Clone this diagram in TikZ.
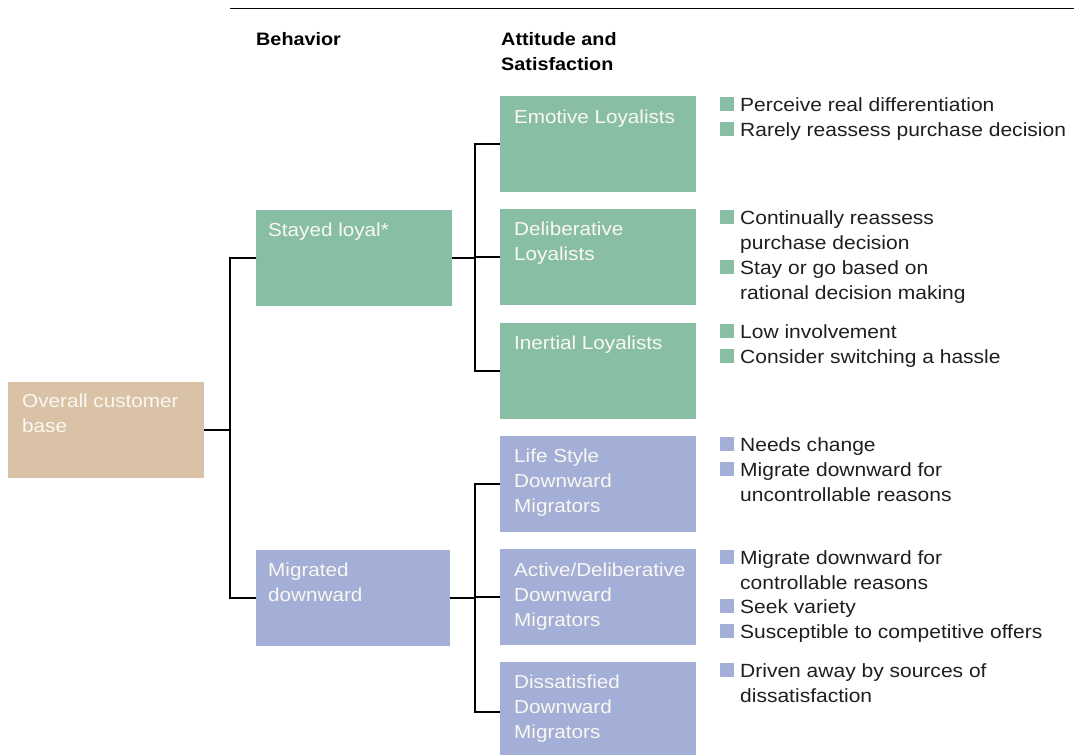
\documentclass[tikz,border=0pt]{standalone}
\usepackage{fontspec}
\setmainfont[FakeStretch=1.1]{Liberation Sans}
\definecolor{gbox}{HTML}{88BFA4}
\definecolor{bbox}{HTML}{A3AFD6}
\definecolor{tbox}{HTML}{D9C2A5}
\definecolor{btext}{HTML}{FAF8F2}
\definecolor{dtext}{HTML}{1E1E1E}
\tikzset{
  boxnode/.style={draw=none, inner sep=0pt, outer sep=0pt, minimum width=196pt, minimum height=96pt, anchor=north west},
  boxtxt/.style={anchor=base west, inner sep=0pt, align=left, text=btext, font=\fontsize{18.8}{25.3}\selectfont},
  bulsq/.style={minimum size=14pt, inner sep=0pt, outer sep=0pt, anchor=south west},
  btxt/.style={anchor=base west, inner sep=0pt, align=left, text=dtext, font=\fontsize{19.1}{25}\selectfont},
  hdr/.style={anchor=base west, inner sep=0pt, align=left, text=black, font=\fontsize{18}{25}\selectfont\bfseries},
  conn/.style={line width=2.4pt, line join=miter, draw=black}
}
\begin{document}
\begin{tikzpicture}[x=1pt, y=-1pt]
\useasboundingbox (0,0) rectangle (1074,755);
% top rule
\coordinate (r1) at (230,8.5);
\coordinate (r2) at (1074,8.5);
\draw[line width=1.5pt] (r1) -- (r2);
% headers (multi-line nodes are anchored at the last baseline)
\node[hdr] (h1) at (256,45) {Behavior};
\node[hdr] (h2) at (501,70) {Attitude and\\Satisfaction};
% boxes
\node[boxnode, fill=tbox] (ocb) at (8,382) {};
\node[boxnode, fill=gbox] (sl) at (256,210) {};
\node[boxnode, fill=bbox, minimum width=194pt] (mg) at (256,550) {};
\node[boxnode, fill=gbox] (em) at (500,96) {};
\node[boxnode, fill=gbox] (de) at (500,209) {};
\node[boxnode, fill=gbox] (il) at (500,323) {};
\node[boxnode, fill=bbox] (ls) at (500,436) {};
\node[boxnode, fill=bbox] (ad) at (500,549) {};
\node[boxnode, fill=bbox, minimum height=93pt] (ds) at (500,662) {};
% box texts
\node[boxtxt] (tocb) at (22,432.3) {Overall customer\\base};
\node[boxtxt] (tsl) at (268,236) {Stayed loyal*};
\node[boxtxt] (tmg) at (268,601.3) {Migrated\\downward};
\node[boxtxt] (tem) at (514,123) {Emotive Loyalists};
\node[boxtxt] (tde) at (514,260.3) {Deliberative\\Loyalists};
\node[boxtxt] (til) at (514,349) {Inertial Loyalists};
\node[boxtxt] (tls) at (514,512.6) {Life Style\\Downward\\Migrators};
\node[boxtxt] (tad) at (514,626.6) {Active/Deliberative\\Downward\\Migrators};
\node[boxtxt] (tds) at (514,738.6) {Dissatisfied\\Downward\\Migrators};
% connectors
\coordinate (j1) at (230,430);
\coordinate (j2) at (475,258);
\coordinate (j3) at (475,598);
\draw[conn] (ocb.east) -- (j1);
\draw[conn] (sl.west) -- (sl.west -| j1) |- (mg.west);
\draw[conn] (sl.east) -- (j2);
\draw[conn] (em.west) -- (em.west -| j2) |- (il.west);
\draw[conn] (de.west) -- (de.west -| j2);
\draw[conn] (mg.east) -- (j3);
\coordinate (dsin) at ([yshift=-3.5pt]ds.west);
\draw[conn] (ls.west) -- (ls.west -| j3) |- (dsin);
\draw[conn] (ad.west) -- (ad.west -| j3);
% bullets
\node[bulsq, fill=gbox] (b1) at (720,111) {};
\node[btxt] (t1) at (740,111) {Perceive real differentiation};
\node[bulsq, fill=gbox] (b2) at (720,136) {};
\node[btxt] (t2) at (740,136) {Rarely reassess purchase decision};
\node[bulsq, fill=gbox] (b3) at (720,224) {};
\node[btxt] (t3) at (740,249) {Continually reassess\\purchase decision};
\node[bulsq, fill=gbox] (b4) at (720,274) {};
\node[btxt] (t4) at (740,299) {Stay or go based on\\rational decision making};
\node[bulsq, fill=gbox] (b5) at (720,338) {};
\node[btxt] (t5) at (740,338) {Low involvement};
\node[bulsq, fill=gbox] (b6) at (720,363) {};
\node[btxt] (t6) at (740,363) {Consider switching a hassle};
\node[bulsq, fill=bbox] (b7) at (720,451) {};
\node[btxt] (t7) at (740,451) {Needs change};
\node[bulsq, fill=bbox] (b8) at (720,476) {};
\node[btxt] (t8) at (740,501) {Migrate downward for\\uncontrollable reasons};
\node[bulsq, fill=bbox] (b9) at (720,564) {};
\node[btxt] (t9) at (740,589) {Migrate downward for\\controllable reasons};
\node[bulsq, fill=bbox] (b10) at (720,613) {};
\node[btxt] (t10) at (740,613) {Seek variety};
\node[bulsq, fill=bbox] (b11) at (720,638) {};
\node[btxt] (t11) at (740,638) {Susceptible to competitive offers};
\node[bulsq, fill=bbox] (b12) at (720,677) {};
\node[btxt] (t12) at (740,702) {Driven away by sources of\\dissatisfaction};
\end{tikzpicture}
\end{document}
